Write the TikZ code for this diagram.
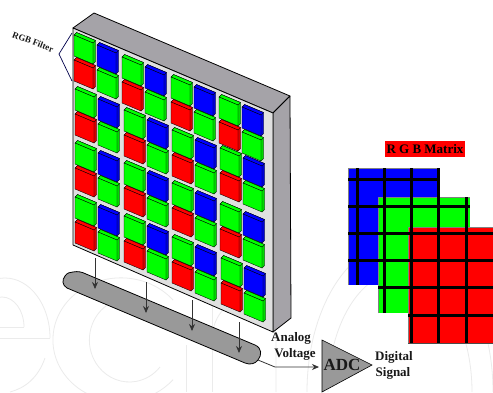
\documentclass[tikz,border=0pt]{standalone}
\usepackage{fontspec}
\setmainfont{Liberation Serif}
\usetikzlibrary{arrows.meta}
\tikzset{
  px/.style={x=1pt,y=-1pt},
  lbl/.style={inner sep=0pt,font=\bfseries\fontsize{13}{15}\selectfont,text=black!90},
  flow/.style={draw=black!80,line width=.8pt,-{Stealth[length=7pt,width=6pt]}},
  wm/.style={draw=black!8,line width=.8pt},
  gridline/.style={black,line width=3pt},
  edgeline/.style={black!50,line width=.5pt},
}
\definecolor{sideg}{RGB}{165,163,168}
\definecolor{faceg}{RGB}{224,224,224}
\definecolor{bandg}{RGB}{153,153,153}
\newcommand{\cell}[3]{% x,y,colour
  \fill[#3!85!black,draw=black,line width=.35pt,line join=round] (#1,#2) -- ++(2.5,-2.5) -- ++(19,8) -- ++(0,21) -- ++(-2.5,2.5) -- cycle;
  \fill[#3,draw=black,line width=.35pt,line join=round] (#1,#2) -- ++(2.5,-2.5) -- ++(19,8) -- ++(-2.5,2.5) -- cycle;
  \fill[#3,draw=black,line width=.35pt,line join=round] (#1,#2) -- ++(19,8) -- ++(0,21) -- ++(-19,-8) -- cycle;
}
\newcommand{\cgroup}[2]{%
  \cell{#1}{#2}{green}
  \cell{\the\numexpr#1+23\relax}{\the\numexpr#2+10\relax}{blue}
  \cell{#1}{\the\numexpr#2+25\relax}{red}
  \cell{\the\numexpr#1+23\relax}{\the\numexpr#2+35\relax}{green}
}
\begin{document}
\begin{tikzpicture}[px]
\useasboundingbox (0,0) rectangle (493,392);
\fill[white] (0,0) rectangle (493,392);
% watermark
\begin{scope}
\clip (0,0) rectangle (493,392);
\draw[wm] (0,327) -- (24,327) (0,338) -- (50,338);
\draw[wm] (50,338) arc (0:-170:45 and 60);
\draw[wm] (24,327) arc (0:-170:22 and 30);
\draw[wm] (45,358) .. controls (38,378) and (25,388) .. (10,392);
\draw[wm] (173,300) arc (-40:-320:68 and 62);
\draw[wm] (160,313) arc (-40:-320:40 and 42);
\draw[wm] (186,392) -- (186,345);
\draw[wm] (212,392) -- (212,305);
\draw[wm] (212,340) arc (180:360:32 and 40) -- (276,392);
\draw[wm] (307,392) arc (180:360:93 and 150);
\draw[wm] (328,392) arc (180:360:72 and 120);
\end{scope}
% panel
\fill[sideg,draw=black,line width=.8pt,line join=round] (73,28) -- (94,13) -- (290,96) -- (273,113) -- cycle;
\fill[sideg,draw=black,line width=.8pt,line join=round] (273,113) -- (290,96) -- (291,318) -- (273,332) -- cycle;
\fill[faceg,draw=black,line width=.8pt,line join=round] (73,28) -- (273,113) -- (273,332) -- (73,245) -- cycle;
% filter cells
\cgroup{74}{35}\cgroup{122}{57}\cgroup{171}{77}\cgroup{219}{97}
\cgroup{75}{89}\cgroup{124}{110}\cgroup{172}{130}\cgroup{220}{148}
\cgroup{75}{143}\cgroup{124}{163}\cgroup{172}{183}\cgroup{220}{204}
\cgroup{75}{197}\cgroup{124}{216}\cgroup{172}{237}\cgroup{221}{258}
% bracket and label
\coordinate (bt) at (72,33); \coordinate (bm) at (59,54); \coordinate (bb) at (72,81);
\draw[draw=blue!30!black,line width=.7pt] (bt) -- (bm) -- (bb);
\node[lbl,rotate=-21,font=\bfseries\fontsize{9}{11}\selectfont] (filter) at (33,42) {RGB Filter};
% band
\fill[bandg,draw=black,line width=.8pt,line join=round]
  (73,272) .. controls (78,271) and (82,272) .. (86,274)
  -- (255,345) .. controls (262,348) and (262,355) .. (258,360)
  .. controls (255,364) and (250,365) .. (245,363)
  -- (67,288) .. controls (62,285) and (62,280) .. (65,276)
  .. controls (67,273) and (70,272) .. (73,272) -- cycle;
% sensor arrows
\coordinate (a1) at (95,258); \coordinate (b1) at (95,289);
\coordinate (a2) at (146,282); \coordinate (b2) at (146,313);
\coordinate (a3) at (192,300); \coordinate (b3) at (192,331);
\coordinate (a4) at (239,322); \coordinate (b4) at (239,353);
\draw[flow] (a1) -- (b1);
\draw[flow] (a2) -- (b2);
\draw[flow] (a3) -- (b3);
\draw[flow] (a4) -- (b4);
% ADC
\fill[bandg,draw=black,line width=.6pt] (322,340) -- (372,365) -- (322,392) -- cycle;
\node[lbl,font=\bfseries\fontsize{17}{19}\selectfont] (adc) at (342,365) {ADC};
\coordinate (bandout) at (258,360); \coordinate (adcin) at (319,367);
\draw[flow] (bandout) -- (275,367) -- (adcin);
\node[lbl] (analog) at (291,338) {Analog};
\node[lbl] (voltage) at (295,354) {Voltage};
\node[lbl] (digital) at (394,357) {Digital};
\node[lbl] (signal) at (393,373) {Signal};
% matrix
\fill[blue] (348,168) rectangle (439,285);
\draw[edgeline] (348,285) -- (348,168) -- (439,168);
\foreach \x in {357,384,411,438} \draw[gridline] (\x,168) -- (\x,285);
\foreach \y in {179,206,233,260} \draw[gridline] (348,\y) -- (439,\y);
\fill[green] (378,197) rectangle (470,313);
\draw[edgeline] (378,313) -- (378,197) -- (470,197);
\foreach \x in {384,411,438,466} \draw[gridline] (\x,197) -- (\x,313);
\foreach \y in {206,233,260,287} \draw[gridline] (378,\y) -- (470,\y);
\fill[red] (408,227) rectangle (493,343);
\draw[edgeline] (408,343) -- (408,227) -- (493,227);
\draw[black!70,line width=1pt] (408,343) -- (493,343);
\foreach \x in {411,438,466} \draw[gridline] (\x,227) -- (\x,343);
\foreach \y in {233,260,287,315} \draw[gridline] (408,\y) -- (493,\y);
\node[fill=red,minimum width=80pt,minimum height=16pt,inner sep=0pt,font=\bfseries\fontsize{13}{15}\selectfont] (mtitle) at (425,149) {R G B Matrix};
\end{tikzpicture}
\end{document}
